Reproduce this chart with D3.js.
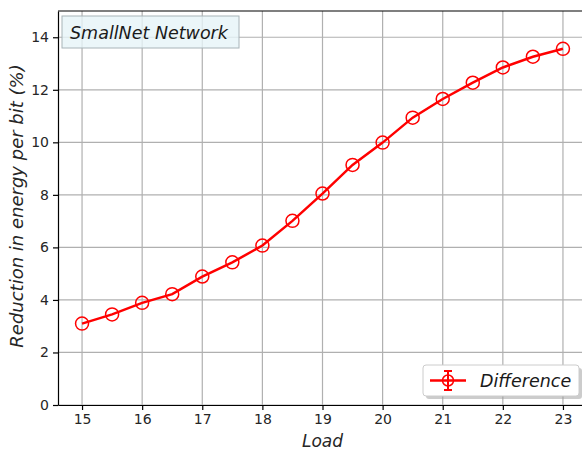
<!DOCTYPE html>
<meta charset="utf-8">
<style>
body { margin: 0; background: #fff; }
text { font-family: "DejaVu Sans", sans-serif; }
.grid line { stroke: #b0b0b0; stroke-width: 1.2px; }
.axis path, .axis line { stroke: #000; stroke-width: 1.2px; }
.axis text { font-size: 14px; fill: #262626; }
</style>
<body>
<script src="https://d3js.org/d3.v7.min.js"></script>
<script>

// data
var load = [15, 15.5, 16, 16.5, 17, 17.5, 18, 18.5, 19, 19.5, 20, 20.5, 21, 21.5, 22, 22.5, 23];
var reduction = [3.1, 3.45, 3.89, 4.22, 4.89, 5.43, 6.07, 7.01, 8.05, 9.14, 9.99, 10.94, 11.65, 12.27, 12.85, 13.26, 13.56];
var xTicks = [15, 16, 17, 18, 19, 20, 21, 22, 23];
var yTicks = [0, 2, 4, 6, 8, 10, 12, 14];

var margin = {top: 11, right: 0, bottom: 45, left: 58},
    width = 582 - margin.left - margin.right,
    height = 450 - margin.top - margin.bottom;

var x = d3.scaleLinear().domain([14.6, 23.4]).range([0, 529]);
var y = d3.scaleLinear().domain([0, 15]).range([height, 0]);

var svg = d3.select("body").append("svg")
    .attr("width", 582)
    .attr("height", 450)
  .append("g")
    .attr("transform", "translate(" + margin.left + "," + margin.top + ")");

// grid
svg.append("g")
    .attr("class", "grid")
    .selectAll("line.v")
    .data(xTicks)
  .enter().append("line")
    .attr("x1", function(d) { return x(d); })
    .attr("x2", function(d) { return x(d); })
    .attr("y1", 0)
    .attr("y2", height);

svg.append("g")
    .attr("class", "grid")
    .selectAll("line.h")
    .data(yTicks)
  .enter().append("line")
    .attr("x1", 0)
    .attr("x2", width)
    .attr("y1", function(d) { return y(d); })
    .attr("y2", function(d) { return y(d); });

// axes
svg.append("g")
    .attr("class", "axis")
    .attr("transform", "translate(0," + height + ")")
    .call(d3.axisBottom(x).tickValues(xTicks).tickSize(5).tickPadding(4).tickSizeOuter(0));

svg.append("g")
    .attr("class", "axis")
    .call(d3.axisLeft(y).tickValues(yTicks).tickSize(5).tickPadding(4).tickSizeOuter(0));

svg.append("line")
    .attr("x1", 0).attr("x2", width)
    .attr("y1", 0).attr("y2", 0)
    .attr("stroke", "#000").attr("stroke-width", 1.2);

// line + markers
var line = d3.line()
    .x(function(d, i) { return x(load[i]); })
    .y(function(d) { return y(d); });

svg.append("path")
    .datum(reduction)
    .attr("fill", "none")
    .attr("stroke", "#ff0000")
    .attr("stroke-width", 2.5)
    .attr("d", line);

svg.selectAll("circle.pt")
    .data(reduction)
  .enter().append("circle")
    .attr("class", "pt")
    .attr("cx", function(d, i) { return x(load[i]); })
    .attr("cy", function(d) { return y(d); })
    .attr("r", 6.5)
    .attr("fill", "none")
    .attr("stroke", "#ff0000")
    .attr("stroke-width", 1.5);

// axis labels
svg.append("text")
    .attr("x", x(19))
    .attr("y", height + 42)
    .attr("text-anchor", "middle")
    .style("font-size", "17px")
    .style("font-style", "italic")
    .attr("fill", "#262626")
    .text("Load");

svg.append("text")
    .attr("transform", "translate(-35," + (height / 2 - 2) + ") rotate(-90)")
    .attr("text-anchor", "middle")
    .style("font-size", "18px")
    .style("font-style", "italic")
    .attr("fill", "#262626")
    .text("Reduction in energy per bit (%)");

// title box
svg.append("rect")
    .attr("x", 4).attr("y", 5)
    .attr("width", 177).attr("height", 32)
    .attr("fill", "#e6f4f8").attr("fill-opacity", 0.8)
    .attr("stroke", "#a8b4b8").attr("stroke-width", 1);

svg.append("text")
    .attr("x", 12).attr("y", 28)
    .style("font-size", "17.5px")
    .style("font-style", "italic")
    .attr("fill", "#1a1a1a")
    .text("SmallNet Network");

// legend
var lg = svg.append("g").attr("transform", "translate(365,354)");
lg.append("rect")
    .attr("x", 3).attr("y", 3)
    .attr("width", 156).attr("height", 31).attr("rx", 3)
    .attr("fill", "#999").attr("fill-opacity", 0.5);
lg.append("rect")
    .attr("width", 156).attr("height", 31).attr("rx", 3)
    .attr("fill", "#fff").attr("stroke", "#ccc");
lg.append("line")
    .attr("x1", 7).attr("x2", 43).attr("y1", 15.5).attr("y2", 15.5)
    .attr("stroke", "#ff0000").attr("stroke-width", 2.5);
lg.append("line")
    .attr("x1", 25).attr("x2", 25).attr("y1", 6).attr("y2", 25)
    .attr("stroke", "#ff0000").attr("stroke-width", 2);
lg.append("line")
    .attr("x1", 21).attr("x2", 29).attr("y1", 6).attr("y2", 6)
    .attr("stroke", "#ff0000").attr("stroke-width", 2);
lg.append("line")
    .attr("x1", 21).attr("x2", 29).attr("y1", 25).attr("y2", 25)
    .attr("stroke", "#ff0000").attr("stroke-width", 2);
lg.append("circle")
    .attr("cx", 25).attr("cy", 15.5).attr("r", 5.5)
    .attr("fill", "none").attr("stroke", "#ff0000").attr("stroke-width", 1.5);
lg.append("text")
    .attr("x", 57).attr("y", 22)
    .style("font-size", "17.5px")
    .style("font-style", "italic")
    .attr("fill", "#1a1a1a")
    .text("Difference");

</script>
</body>
